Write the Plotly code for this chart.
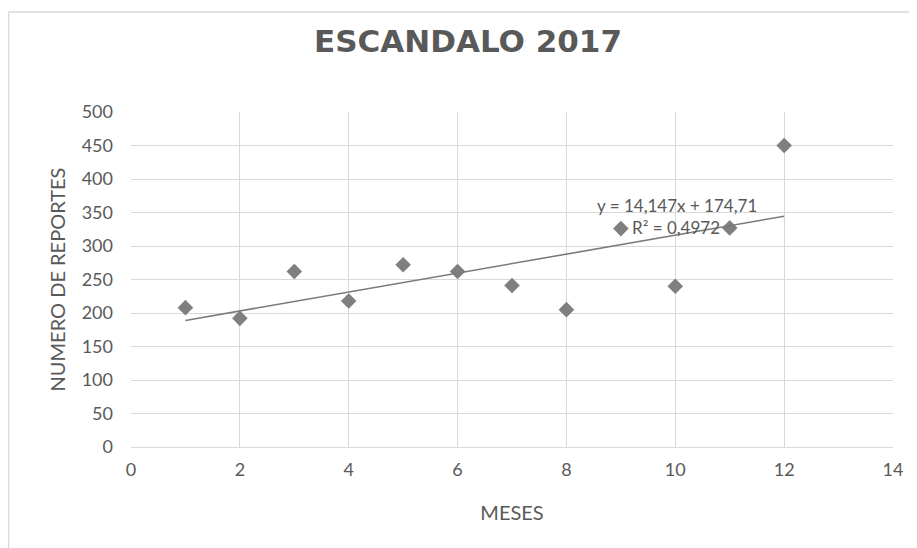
import plotly.graph_objects as go

meses = [1, 2, 3, 4, 5, 6, 7, 8, 9, 10, 11, 12]
reportes = [208, 192, 262, 218, 272, 262, 241, 205, 326, 240, 327, 450]
trend_slope = 14.147
trend_intercept = 174.71
trend_x = [1, 12]
eq_label = "y = 14,147x + 174,71"
r2_label = "R² = 0,4972"
x_ticks = [0, 2, 4, 6, 8, 10, 12, 14]
y_ticks = [0, 50, 100, 150, 200, 250, 300, 350, 400, 450, 500]

FONT = "Lato, 'Open Sans', sans-serif"
TXT = "#595959"
GRID = "#d9d9d9"

W, H = 909, 540
L, R, T, B = 123, 24, 104, 101
PW, PH = W - L - R, H - T - B

fig = go.Figure()
fig.add_trace(go.Scatter(
    x=meses, y=reportes, mode="markers",
    marker=dict(symbol="diamond", size=12, color="#7f7f7f"),
    showlegend=False, hoverinfo="x+y"))
fig.add_trace(go.Scatter(
    x=trend_x, y=[trend_slope * v + trend_intercept for v in trend_x],
    mode="lines", line=dict(color="#7a7a7a", width=1.6),
    showlegend=False, hoverinfo="skip"))

fig.add_annotation(x=10.03, y=361, xref="x", yref="y", text=eq_label,
                   showarrow=False, font=dict(family=FONT, size=17, color=TXT))
fig.add_annotation(x=10.02, y=327, xref="x", yref="y", text=r2_label,
                   showarrow=False, font=dict(family=FONT, size=17, color=TXT))

fig.update_layout(
    width=W, height=H,
    paper_bgcolor="white", plot_bgcolor="white",
    margin=dict(l=L, r=R, t=T, b=B, autoexpand=False),
    title=dict(text="<b>ESCANDALO 2017</b>", x=460 / W, xanchor="center",
               y=1 - 33 / H, yanchor="middle",
               font=dict(family="'DejaVu Sans', sans-serif", size=31, color=TXT)),
    xaxis=dict(range=[0, 14], tickvals=x_ticks, showgrid=True, gridcolor=GRID,
               gridwidth=1.4, zeroline=False, showline=True, linecolor=GRID,
               linewidth=1.4, ticks="", ticklabelstandoff=6,
               tickfont=dict(family=FONT, size=18, color=TXT),
               title=dict(text="MESES", font=dict(family=FONT, size=20, color=TXT),
                          standoff=27)),
    yaxis=dict(range=[0, 500], tickvals=y_ticks, showgrid=True, gridcolor=GRID,
               gridwidth=1.4, zeroline=False, showline=False,
               ticks="", ticklabelstandoff=17,
               tickfont=dict(family=FONT, size=18, color=TXT),
               title=dict(text="NUMERO DE REPORTES",
                          font=dict(family=FONT, size=20, color=TXT), standoff=10)),
)

# chart frame (top and left edges visible)
fig.add_shape(type="line", xref="paper", yref="paper",
              x0=(0.5 - L) / PW, x1=(W - L) / PW,
              y0=(PH + T - 4) / PH, y1=(PH + T - 4) / PH,
              line=dict(color="#d9d9d9", width=1.5))
fig.add_shape(type="line", xref="paper", yref="paper",
              x0=(0.5 - L) / PW, x1=(0.5 - L) / PW,
              y0=(PH + T - 4) / PH, y1=-B / PH,
              line=dict(color="#d9d9d9", width=1.5))

fig.write_html("out.html")
